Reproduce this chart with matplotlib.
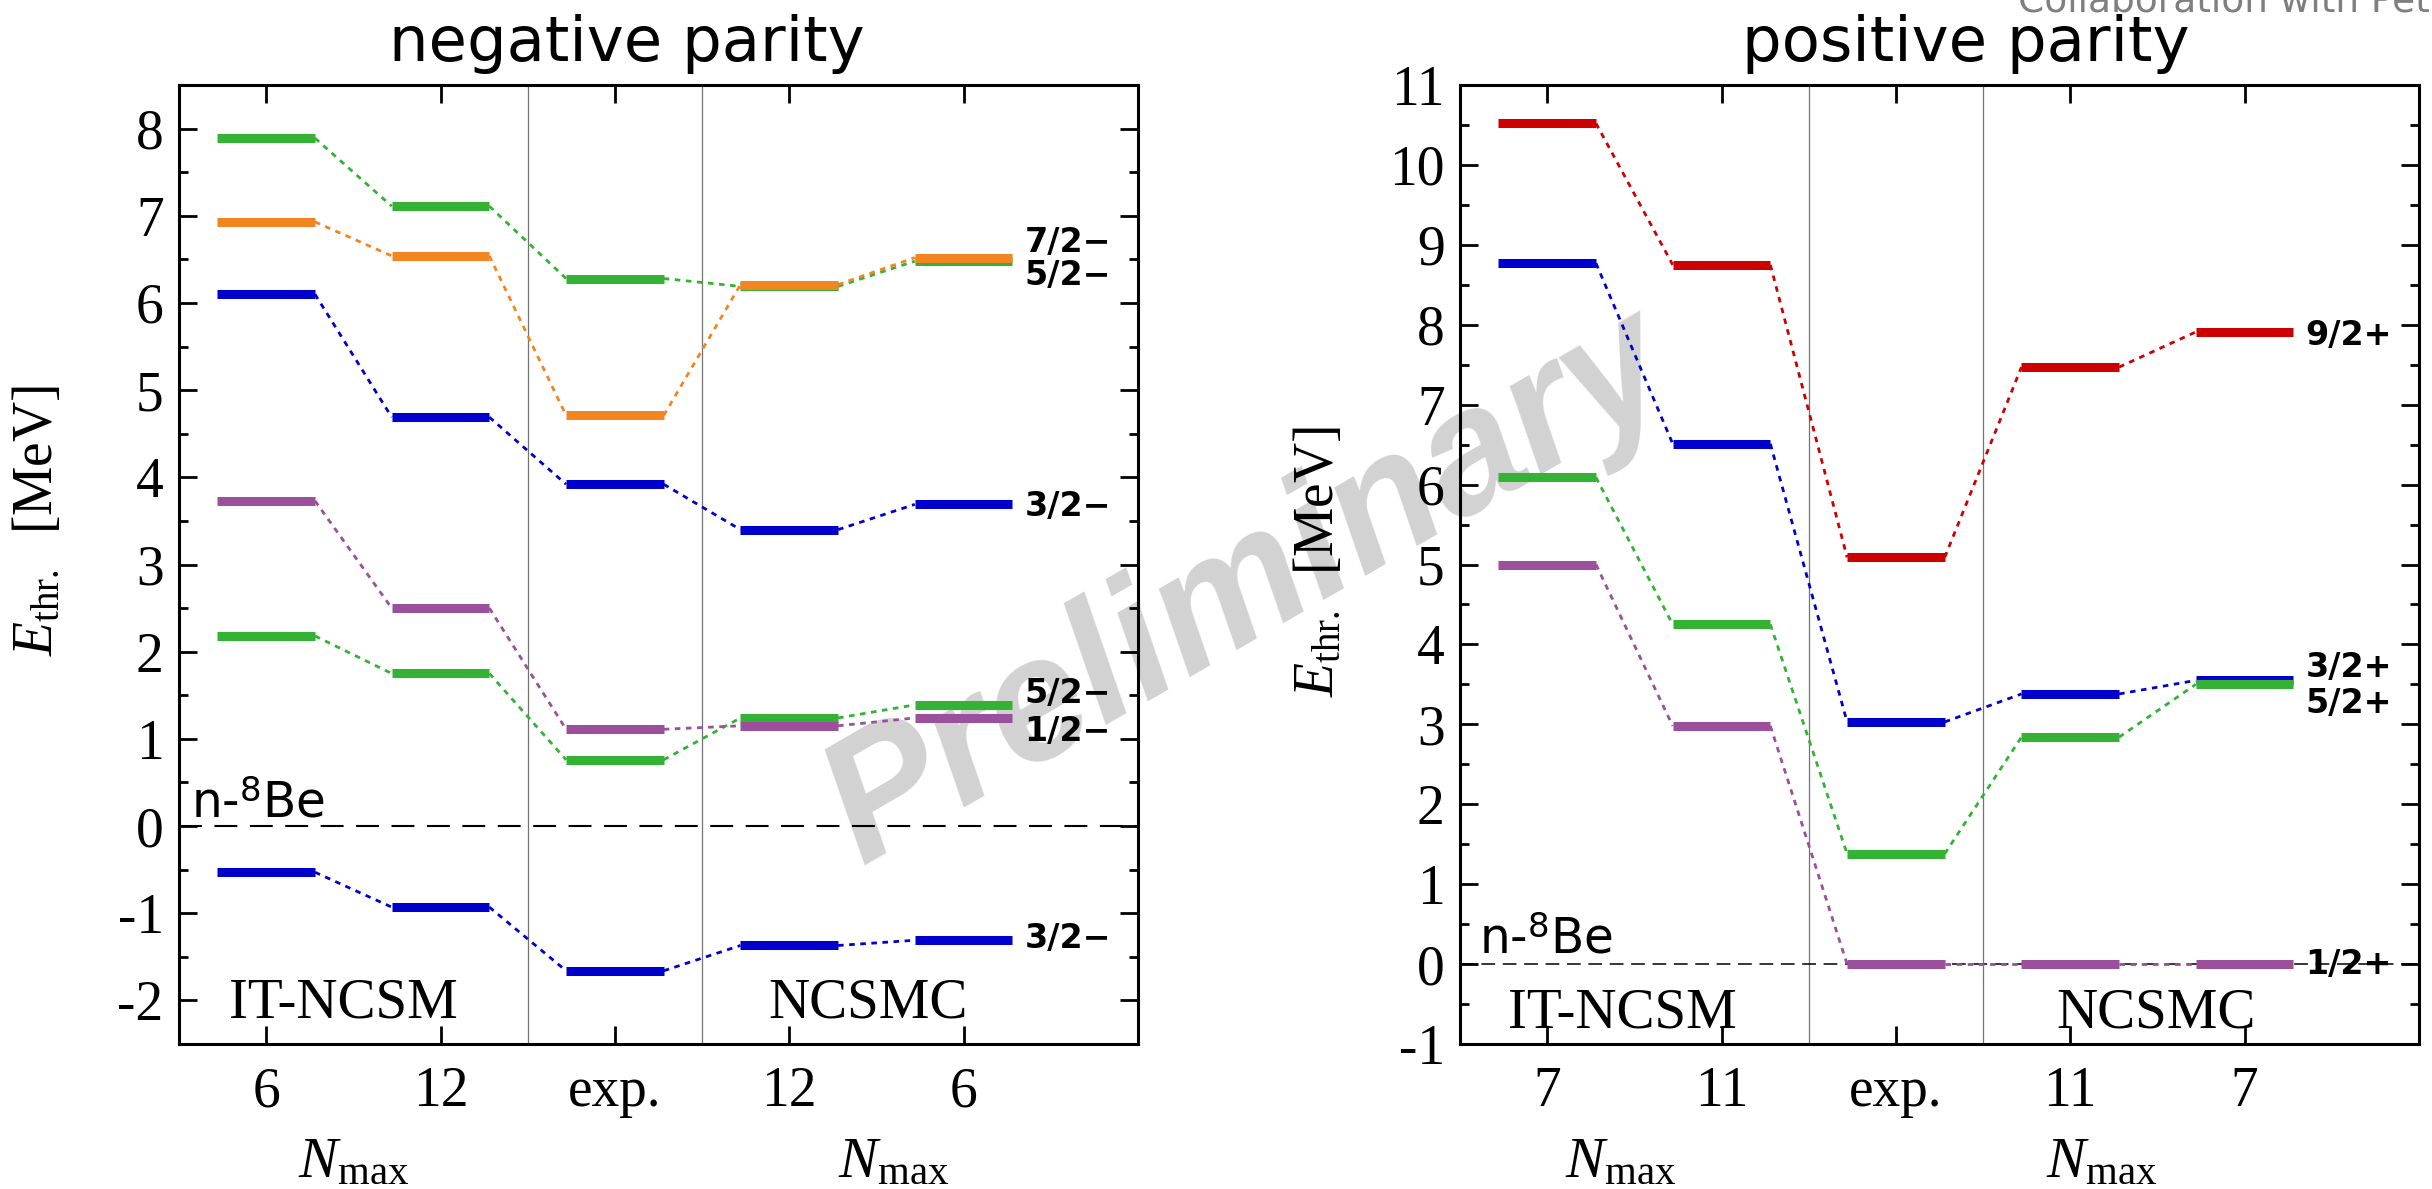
import matplotlib
matplotlib.use('Agg')
import matplotlib.pyplot as plt
from matplotlib.ticker import MultipleLocator

plt.rcParams['font.family'] = 'Liberation Serif'
plt.rcParams['mathtext.fontset'] = 'custom'
plt.rcParams['mathtext.rm'] = 'Liberation Serif'
plt.rcParams['mathtext.it'] = 'Liberation Serif:italic'
plt.rcParams['mathtext.sf'] = 'DejaVu Sans'
plt.rcParams['axes.unicode_minus'] = False

# columns: IT-NCSM Nmax, exp., NCSMC Nmax
neg_ticks = ['6', '12', 'exp.', '12', '6']
neg_32_low = [-0.53, -0.93, -1.66, -1.37, -1.31]
neg_52_low = [2.18, 1.75, 0.76, 1.24, 1.39]
neg_12 = [3.73, 2.50, 1.11, 1.15, 1.24]
neg_32_high = [6.10, 4.69, 3.92, 3.40, 3.69]
neg_72 = [6.93, 6.54, 4.71, 6.21, 6.52]
neg_52_high = [7.89, 7.11, 6.28, 6.19, 6.48]
neg_labels = ['7/2\u2212', '5/2\u2212', '3/2\u2212', '5/2\u2212', '1/2\u2212', '3/2\u2212']
neg_label_y = [6.69, 6.31, 3.66, 1.52, 1.09, -1.29]

pos_ticks = ['7', '11', 'exp.', '11', '7']
pos_92 = [10.52, 8.75, 5.09, 7.47, 7.91]
pos_32 = [8.77, 6.51, 3.03, 3.38, 3.55]
pos_52 = [6.09, 4.25, 1.38, 2.84, 3.50]
pos_12 = [5.00, 2.98, 0.0, 0.0, 0.0]
pos_labels = ['9/2+', '3/2+', '5/2+', '1/2+']
pos_label_y = [7.87, 3.71, 3.26, 0.0]

GREEN = '#33b233'
ORANGE = '#f28522'
BLUE = '#0000cc'
PURPLE = '#9a509a'
RED = '#cc0000'
HW = 0.28  # half width of a level bar
FS = 40    # serif text size


def levels(ax, vals, color):
    xs = list(range(1, len(vals) + 1))
    for x, v in zip(xs, vals):
        ax.plot([x - HW, x + HW], [v, v], color=color, lw=6.5,
                solid_capstyle='butt', zorder=3)
    for i in range(len(vals) - 1):
        ax.plot([xs[i] + HW, xs[i + 1] - HW], [vals[i], vals[i + 1]],
                color=color, lw=2, ls=(0, (2, 2)), zorder=2)


def setup(ax, ticks, ylim):
    ax.set_xlim(0.5, 6.0)
    ax.set_ylim(*ylim)
    ax.set_xticks(range(1, 6))
    ax.set_xticklabels(ticks)
    ax.yaxis.set_major_locator(MultipleLocator(1))
    ax.yaxis.set_minor_locator(MultipleLocator(0.5))
    ax.tick_params(which='both', direction='in', top=True, right=True, width=2)
    ax.tick_params(which='major', length=13)
    ax.tick_params(which='minor', length=6.5)
    ax.tick_params(axis='y', labelsize=FS, pad=11)
    ax.tick_params(axis='x', labelsize=FS, pad=16)
    for s in ax.spines.values():
        s.set_linewidth(2.2)
    ax.patch.set_alpha(0)
    ax.axvline(2.5, color='0.45', lw=0.9, zorder=1)
    ax.axvline(3.5, color='0.45', lw=0.9, zorder=1)


fig = plt.figure(figsize=(24.32, 11.89), dpi=100)

ax1 = fig.add_axes([179 / 2432, 145 / 1189, 959 / 2432, 959 / 1189])
setup(ax1, neg_ticks, (-2.5, 8.5))
ax1.axhline(0, color='k', lw=1.5, ls=(0, (11, 6)), zorder=1)
levels(ax1, neg_32_low, BLUE)
levels(ax1, neg_32_high, BLUE)
levels(ax1, neg_52_low, GREEN)
levels(ax1, neg_52_high, GREEN)
levels(ax1, neg_72, ORANGE)
levels(ax1, neg_12, PURPLE)
for lab, y in zip(neg_labels, neg_label_y):
    ax1.text(5.35, y, lab, family='DejaVu Sans', fontweight='bold',
             fontsize=24, ha='left', va='center')
ax1.text(0.57, 0.1, r'n-$^{\mathsf{8}}$Be', family='DejaVu Sans', fontsize=35,
         ha='left', va='baseline')
ax1.text(1.44, -2.2, 'IT-NCSM', fontsize=FS + 1, ha='center', va='baseline')
ax1.text(4.45, -2.2, 'NCSMC', fontsize=FS + 1, ha='center', va='baseline')
ax1.set_ylabel(r'$E_{\rm thr.}$  [MeV]', fontsize=FS)
ax1.yaxis.set_label_coords(-0.12, 0.546)
for x in [1.5, 4.6]:
    ax1.text(x, -0.139, r'$N_{\rm max}$', transform=ax1.get_xaxis_transform(),
             fontsize=FS + 2, ha='center', va='baseline')

ax2 = fig.add_axes([1460 / 2432, 145 / 1189, 959 / 2432, 959 / 1189])
setup(ax2, pos_ticks, (-1, 11))
ax2.axhline(0, color='k', lw=1.1, ls=(0, (9, 5)), zorder=1)
levels(ax2, pos_92, RED)
levels(ax2, pos_32, BLUE)
levels(ax2, pos_52, GREEN)
levels(ax2, pos_12, PURPLE)
for lab, y in zip(pos_labels, pos_label_y):
    ax2.text(5.35, y, lab, family='DejaVu Sans', fontweight='bold',
             fontsize=24, ha='left', va='center')
ax2.text(0.61, 0.13, r'n-$^{\mathsf{8}}$Be', family='DejaVu Sans', fontsize=35,
         ha='left', va='baseline')
ax2.text(1.43, -0.79, 'IT-NCSM', fontsize=FS + 1, ha='center', va='baseline')
ax2.text(4.49, -0.79, 'NCSMC', fontsize=FS + 1, ha='center', va='baseline')
ax2.set_ylabel(r'$E_{\rm thr.}$  [MeV]', fontsize=FS)
ax2.yaxis.set_label_coords(-0.12, 0.503)
for x in [1.42, 4.18]:
    ax2.text(x, -0.139, r'$N_{\rm max}$', transform=ax2.get_xaxis_transform(),
             fontsize=FS + 2, ha='center', va='baseline')

fig.text(627 / 2432, 1 - 61 / 1189, 'negative parity', family='DejaVu Sans',
         fontsize=45, ha='center', va='baseline')
fig.text(1966 / 2432, 1 - 61 / 1189, 'positive parity', family='DejaVu Sans',
         fontsize=45, ha='center', va='baseline')
fig.text(2018 / 2432, 1 - 11 / 1189, 'Collaboration with Petr Navr\u00e1til',
         family='DejaVu Sans', fontsize=27, color='#7f7f7f',
         ha='left', va='baseline')
fig.text(0.5135, 0.5046, 'Preliminary', family='Liberation Sans',
         fontweight='bold', style='italic', fontsize=125, color='#d2d2d2',
         rotation=30, ha='center', va='center', rotation_mode='anchor', zorder=-1)

fig.savefig('out.png', dpi=100)
plt.close(fig)
